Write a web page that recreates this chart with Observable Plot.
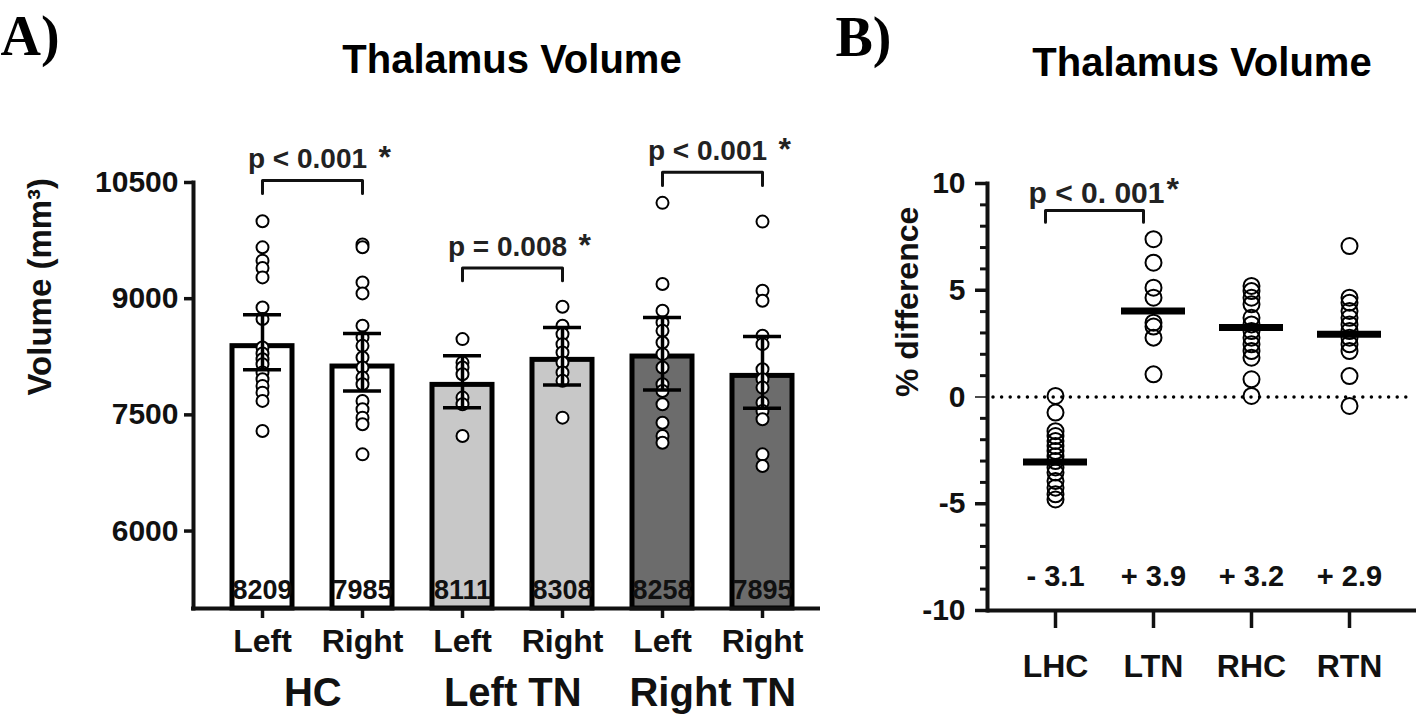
<!DOCTYPE html>
<html><head><meta charset="utf-8">
<script src="https://cdn.jsdelivr.net/npm/d3@7"></script>
<script src="https://cdn.jsdelivr.net/npm/@observablehq/plot@0.6"></script>
<style>
html,body{margin:0;padding:0;background:#fff;}
#wrap{position:relative;width:1416px;height:727px;overflow:hidden;background:#fff;}
#a{position:absolute;left:0;top:0;}
#b{position:absolute;left:820px;top:0;}
svg{overflow:visible;}
svg text{font-weight:bold;}
</style></head><body><div id="wrap"><div id="a"></div><div id="b"></div></div>
<script>
const FONT = "'Liberation Sans', Arial, Helvetica, sans-serif";

// ---------- Panel A data ----------
const barCats   = ["HC Left","HC Right","LTN Left","LTN Right","RTN Left","RTN Right"];
const barSides  = ["Left","Right","Left","Right","Left","Right"];
const barGroups = ["HC","HC","Left TN","Left TN","Right TN","Right TN"];
const barMeans  = [8387, 8124, 7887, 8210, 8253, 8003];
const barLabels = ["8209","7985","8111","8308","8258","7895"];
const errLow    = [8081, 7809, 7593, 7887, 7822, 7585];
const errHigh   = [8792, 8550, 8262, 8628, 8758, 8512];
const ptsHCLeft   = [10000, 9663, 9491, 9396, 9275, 8887, 8737, 8370, 8292, 8219, 8154, 8046, 7960, 7874, 7787, 7680, 7292];
const ptsHCRight  = [9700, 9663, 9210, 9068, 8650, 8499, 8391, 8240, 8111, 7981, 7895, 7680, 7572, 7464, 7378, 6990];
const ptsLTNLeft  = [8478, 8175, 8111, 8025, 7723, 7637, 7227];
const ptsLTNRight = [8896, 8650, 8543, 8413, 8305, 8175, 8046, 7939, 7464];
const ptsRTNLeft  = [10237, 9189, 8844, 8693, 8585, 8434, 8284, 8111, 7895, 7809, 7637, 7399, 7227, 7140];
const ptsRTNRight = [9995, 9103, 8973, 8521, 8413, 8090, 7960, 7852, 7658, 7550, 7443, 6990, 6839];
const yTicksA = [6000, 7500, 9000, 10500];
const groupNames = ["HC","Left TN","Right TN"];
const groupFirst = ["HC Left","LTN Left","RTN Left"];
const bracketFromA = ["HC Left","LTN Left","RTN Left"];
const bracketToA   = ["HC Right","LTN Right","RTN Right"];
const bracketTopA  = [10526, 9397, 10633];
const bracketEndA  = [10358, 9232, 10461];
const pTextA       = ["p < 0.001","p = 0.008","p < 0.001"];

// ---------- Panel B data ----------
const catsB = ["LHC","LTN","RHC","RTN"];
const meansB = [-3.04, 4.03, 3.25, 2.94];
const meanLabelsB = ["- 3.1","+ 3.9","+ 3.2","+ 2.9"];
const ptsLHC = [0.05, -0.73, -1.6, -1.83, -2.06, -2.3, -2.53, -2.77, -3.0, -3.3, -3.54, -3.93, -4.25, -4.56, -4.8];
const ptsLTN = [7.39, 6.29, 5.12, 4.65, 3.48, 3.3, 2.78, 1.06];
const ptsRHC = [5.2, 4.96, 4.65, 4.34, 3.71, 3.4, 3.09, 2.78, 2.47, 2.15, 1.84, 0.83, 0.05];
const ptsRTN = [7.07, 4.65, 4.42, 4.03, 3.71, 3.4, 3.09, 2.78, 2.47, 2.15, 0.98, -0.42];
const yMajorB = [-10, -5, 5, 10];
const yZeroB = [0];
const yMinorB = [-9,-8,-7,-6,-4,-3,-2,-1,1,2,3,4,6,7,8,9];
const yLabelsB = [-10, -5, 0, 5, 10];
const bracketFromB = ["LHC"], bracketToB = ["LTN"];
const bracketTopB = [8.74], bracketEndB = [8.19];
const pTextB = ["p < 0. 001"];

// ---------- build tables ----------
const barData = barCats.map((c, i) => ({cat: c, side: barSides[i], group: barGroups[i], mean: barMeans[i], label: barLabels[i], lo: errLow[i], hi: errHigh[i]}));
const ptsA = [ptsHCLeft, ptsHCRight, ptsLTNLeft, ptsLTNRight, ptsRTNLeft, ptsRTNRight]
  .flatMap((arr, i) => arr.map(v => ({cat: barCats[i], v})));
const bracketsA = bracketFromA.map((f, i) => ({from: f, to: bracketToA[i], top: bracketTopA[i], end: bracketEndA[i], p: pTextA[i]}));
const bracketPts = (br) => br.flatMap((b, k) => [
  {x: b.from, y: b.end, k}, {x: b.from, y: b.top, k}, {x: b.to, y: b.top, k}, {x: b.to, y: b.end, k}]);
const groupData = groupNames.map((g, i) => ({name: g, first: groupFirst[i]}));

const ptsB = [ptsLHC, ptsLTN, ptsRHC, ptsRTN].flatMap((arr, i) => arr.map(v => ({cat: catsB[i], v})));
const meanDataB = catsB.map((c, i) => ({cat: c, mean: meansB[i], label: meanLabelsB[i]}));
const bracketsB = bracketFromB.map((f, i) => ({from: f, to: bracketToB[i], top: bracketTopB[i], end: bracketEndB[i], p: pTextB[i]}));

const AX = 4; // axis stroke width
const SERIF = "'Liberation Serif', 'Times New Roman', serif";

const plotA = Plot.plot({
  width: 860, height: 727,
  marginLeft: 193, marginRight: 30, marginTop: 182, marginBottom: 119,
  style: {fontFamily: FONT, fontWeight: "bold", color: "#111", background: "white", overflow: "visible"},
  x: {domain: barCats, paddingInner: 0.4, paddingOuter: 0.365, label: null},
  y: {domain: [5000, 10500], label: null},
  color: {domain: groupNames, range: ["#ffffff", "#c8c8c8", "#6c6c6c"]},
  marks: [
    Plot.barY(barData, {x: "cat", y1: 5000, y2: "mean", fill: "group", stroke: "#000", strokeWidth: 5}),
    Plot.dot(ptsA, {x: "cat", y: "v", r: 6, fill: "white", stroke: "#000", strokeWidth: 2}),
    Plot.ruleX(barData, {x: "cat", y1: "lo", y2: "hi", stroke: "#000", strokeWidth: 3.5}),
    Plot.tickY(barData, {x: "cat", y: "lo", stroke: "#000", strokeWidth: 3.5, inset: 11}),
    Plot.tickY(barData, {x: "cat", y: "hi", stroke: "#000", strokeWidth: 3.5, inset: 11}),
    Plot.text(barData, {x: "cat", y: 5000, dy: -10, text: "label", lineAnchor: "bottom", fontSize: 27, fontWeight: "bold", fill: "#111"}),
    Plot.line(bracketPts(bracketsA), {x: "x", y: "y", z: "k", stroke: "#111", strokeWidth: 3}),
    Plot.text(bracketsA, {x: "from", y: "top", dx: 45, dy: -12, text: "p", lineAnchor: "bottom", fontSize: 28, fontWeight: "bold", fill: "#222"}),
    Plot.text(bracketsA, {x: "to", y: "top", dx: 16, dy: -12, text: () => "*", textAnchor: "start", lineAnchor: "bottom", fontSize: 32, fontWeight: "bold", fill: "#222"}),
    Plot.axisY({ticks: yTicksA, tickFormat: d => String(d), tickSize: 9, tickPadding: 6, fontSize: 30, fontWeight: "bold", strokeWidth: 3.5, label: null}),
    Plot.axisX({tickFormat: d => barSides[barCats.indexOf(d)], tickSize: 10, tickPadding: 11, fontSize: 32, fontWeight: "bold", strokeWidth: 3.5, label: null}),
    Plot.frame({anchor: "left", strokeWidth: AX}),
    Plot.ruleY([5000], {strokeWidth: AX, insetLeft: -2}),
    Plot.text(groupData, {x: "first", y: 5000, dx: 50.3, dy: 97, text: "name", lineAnchor: "bottom", fontSize: 40, fontWeight: "bold", fill: "#111"}),
    Plot.text(["Volume (mm³)"], {text: d => d, frameAnchor: "left", dx: -153, rotate: -90, fontSize: 33, fontWeight: "bold", fill: "#111"}),
    Plot.text(["Thalamus Volume"], {text: d => d, frameAnchor: "top", dy: -110, lineAnchor: "bottom", fontSize: 40, fontWeight: "bold", fill: "#000"}),
    Plot.text(["A)"], {text: d => d, frameAnchor: "top-left", dx: -193, dy: -128, textAnchor: "start", lineAnchor: "bottom", fontSize: 56, fontWeight: "bold", fontFamily: SERIF, fill: "#000"})
  ]
});
document.getElementById("a").appendChild(plotA);

const plotB = Plot.plot({
  width: 596, height: 727,
  marginLeft: 167, marginRight: 0, marginTop: 183, marginBottom: 117,
  style: {fontFamily: FONT, fontWeight: "bold", color: "#111", background: "white", overflow: "visible"},
  x: {domain: catsB, paddingInner: 0.35, paddingOuter: 0.342, label: null},
  y: {domain: [-10, 10], label: null},
  marks: [
    Plot.ruleY([0], {stroke: "#000", strokeWidth: 3.5, strokeDasharray: "0,8.6", strokeLinecap: "round", insetLeft: 6, insetRight: 6}),
    Plot.dot(ptsB, {x: "cat", y: "v", r: 8, fill: "none", stroke: "#000", strokeWidth: 2}),
    Plot.tickY(meanDataB, {x: "cat", y: "mean", stroke: "#000", strokeWidth: 7}),
    Plot.text(meanDataB, {x: "cat", y: -10, dy: -25, text: "label", lineAnchor: "bottom", fontSize: 29, fontWeight: "bold", fill: "#111"}),
    Plot.line(bracketPts(bracketsB), {x: "x", y: "y", z: "k", dx: -10, stroke: "#111", strokeWidth: 3}),
    Plot.text(bracketsB, {x: "from", y: "top", dx: 41, dy: -7, text: "p", lineAnchor: "bottom", fontSize: 30, fontWeight: "bold", fill: "#222"}),
    Plot.text(bracketsB, {x: "to", y: "top", dx: 13, dy: -10, text: () => "*", textAnchor: "start", lineAnchor: "bottom", fontSize: 32, fontWeight: "bold", fill: "#222"}),
    Plot.axisY({ticks: yMinorB, tickFormat: () => "", tickSize: 7, strokeWidth: 3, label: null}),
    Plot.axisY({ticks: yZeroB, tickFormat: () => "", tickSize: 12, strokeWidth: 1.5, label: null}),
    Plot.axisY({ticks: yMajorB, tickFormat: () => "", tickSize: 12, strokeWidth: 3.5, label: null}),
    Plot.axisY({ticks: yLabelsB, tickFormat: d => String(d), tickSize: 0, tickPadding: 22, fontSize: 30, fontWeight: "bold", label: null}),
    Plot.axisX({tickSize: 18, tickPadding: 26, fontSize: 32, fontWeight: "bold", strokeWidth: 3.5, label: null}),
    Plot.frame({anchor: "left", strokeWidth: AX}),
    Plot.ruleY([-10], {strokeWidth: AX}),
    Plot.text(["% difference"], {text: d => d, frameAnchor: "left", dx: -80, rotate: -90, fontSize: 32, fontWeight: "bold", fill: "#111"}),
    Plot.text(["Thalamus Volume"], {text: d => d, frameAnchor: "top", dy: -108, lineAnchor: "bottom", fontSize: 40, fontWeight: "bold", fill: "#000"}),
    Plot.text(["B)"], {text: d => d, frameAnchor: "top-left", dx: -152, dy: -128, textAnchor: "start", lineAnchor: "bottom", fontSize: 56, fontWeight: "bold", fontFamily: SERIF, fill: "#000"})
  ]
});
document.getElementById("b").appendChild(plotB);
</script>
</body></html>
